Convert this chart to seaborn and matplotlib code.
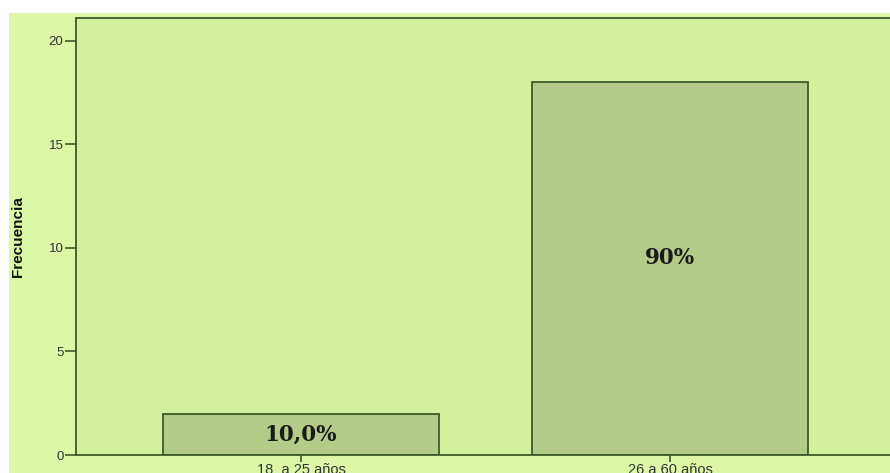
import matplotlib
matplotlib.use("Agg")
import matplotlib.pyplot as plt
from matplotlib.patches import Rectangle
import seaborn as sns
import pandas as pd

# datos
categorias = ["18  a 25 años", "26 a 60 años"]
frecuencias = [2, 18]
etiquetas = ["10,0%", "90%"]
posicion_etiqueta = [1.0, 9.5]

W, H = 890, 473
fondo_externo = "#dcf8a6"
fondo_panel = "#d4f09c"
color_barra = "#b3cb86"
color_borde = "#3d5a2a"

sns.set_style("white")
plt.rcParams["font.family"] = ["Liberation Sans", "DejaVu Sans"]

fig = plt.figure(figsize=(W / 100, H / 100), dpi=100)
fig.patch.set_facecolor("white")
fig.patches.append(
    Rectangle((9 / W, 0), 1, 1 - 13 / H, transform=fig.transFigure,
              facecolor=fondo_externo, edgecolor="none", zorder=-10)
)

ax = fig.add_axes([76 / W, 18 / H, 1 - 76 / W + 0.01, 1 - 36 / H])
ax.set_facecolor(fondo_panel)

df = pd.DataFrame({"Edad": categorias, "Frecuencia": frecuencias})
sns.barplot(data=df, x="Edad", y="Frecuencia", color=color_barra,
            saturation=1, width=0.75, edgecolor=color_borde, linewidth=1.3, ax=ax)

for i, (txt, y) in enumerate(zip(etiquetas, posicion_etiqueta)):
    ax.text(i, y, txt, ha="center", va="center", fontsize=15.5,
            fontweight="bold", family="DejaVu Serif", color="#1a1a1a")

ax.set_ylim(0, 21.1)
ax.set_xlim(-0.61, 1.62)
ax.set_yticks([0, 5, 10, 15, 20])
ax.tick_params(axis="both", direction="out", width=1.2,
               color=color_borde, labelcolor="#333333",
               left=True, bottom=True)
ax.tick_params(axis="y", labelsize=9.5, length=8, pad=1)
ax.tick_params(axis="x", labelsize=10.5, length=5, pad=1)
ax.set_xlabel("")
ax.set_ylabel("Frecuencia", fontsize=11, fontweight="bold", color="#111111",
              labelpad=17, family=["Liberation Sans Narrow", "Liberation Sans"])

for lado in ["left", "bottom", "top"]:
    ax.spines[lado].set_color(color_borde)
    ax.spines[lado].set_linewidth(1.3)
ax.spines["right"].set_visible(False)

fig.savefig("out.png", dpi=100, facecolor=fig.get_facecolor())
